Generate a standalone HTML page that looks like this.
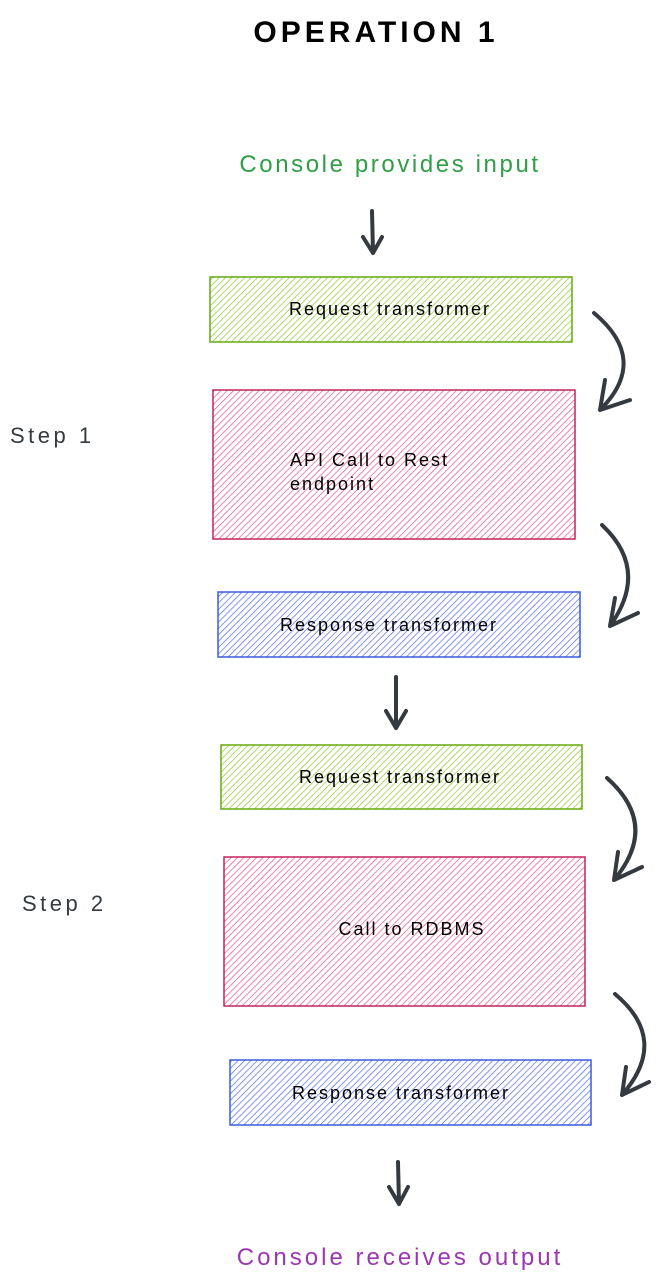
<!DOCTYPE html>
<html><head><meta charset="utf-8"><style>
html,body{margin:0;padding:0;background:#fff}
svg{display:block}
text{font-family:"Liberation Sans",sans-serif}
</style></head><body>
<svg width="663" height="1283" viewBox="0 0 663 1283" xmlns="http://www.w3.org/2000/svg">
<defs>
<pattern id="hg" width="4.5" height="4.5" patternUnits="userSpaceOnUse" patternTransform="rotate(45)"><line x1="0" y1="0" x2="0" y2="5" stroke="#82c91e" stroke-width="1.3"/></pattern>
<pattern id="hr" width="4.5" height="4.5" patternUnits="userSpaceOnUse" patternTransform="rotate(45)"><line x1="0" y1="0" x2="0" y2="5" stroke="#e64980" stroke-width="1.3"/></pattern>
<pattern id="hb" width="4.5" height="4.5" patternUnits="userSpaceOnUse" patternTransform="rotate(45)"><line x1="0" y1="0" x2="0" y2="5" stroke="#4263eb" stroke-width="1.3"/></pattern>
</defs>
<text x="376" y="42" font-size="30" font-weight="bold" text-anchor="middle" fill="#000" letter-spacing="4">OPERATION 1</text>
<text x="390" y="172" font-size="24" text-anchor="middle" fill="#2f9e44" letter-spacing="2.6">Console provides input</text>
<text x="400" y="1265" font-size="24" text-anchor="middle" fill="#9c36b5" letter-spacing="3">Console receives output</text>
<text x="10" y="443" font-size="22" fill="#343a40" letter-spacing="3.5">Step 1</text>
<text x="22" y="911" font-size="22" fill="#343a40" letter-spacing="3.5">Step 2</text>

<rect x="210" y="277" width="362" height="65" fill="url(#hg)" stroke="#66a80f" stroke-width="1.5"/>
<rect x="213" y="390" width="362" height="149" fill="url(#hr)" stroke="#c2255c" stroke-width="1.5"/>
<rect x="218" y="592" width="362" height="65" fill="url(#hb)" stroke="#3b5bdb" stroke-width="1.5"/>
<rect x="221" y="745" width="361" height="64" fill="url(#hg)" stroke="#66a80f" stroke-width="1.5"/>
<rect x="224" y="857" width="361" height="149" fill="url(#hr)" stroke="#c2255c" stroke-width="1.5"/>
<rect x="230" y="1060" width="361" height="65" fill="url(#hb)" stroke="#3b5bdb" stroke-width="1.5"/>

<g font-size="18" fill="#000" text-anchor="middle" letter-spacing="2">
<text x="390" y="315">Request transformer</text>
<text x="389" y="631">Response transformer</text>
<text x="400" y="783">Request transformer</text>
<text x="412" y="935">Call to RDBMS</text>
<text x="401" y="1099">Response transformer</text>
</g>
<text x="290" y="466" font-size="18" fill="#000" letter-spacing="2">API Call to Rest</text>
<text x="290" y="490" font-size="18" fill="#000" letter-spacing="2">endpoint</text>

<g stroke="#343a40" stroke-width="4" fill="none" stroke-linecap="round" stroke-linejoin="round">
<path d="M372 211 L373 253 M363 237 L373 253 L382 237"/>
<path d="M396 677 L396 728 M386 711 L396 728 L406 711"/>
<path d="M398 1162 L399 1204 M389 1187 L399 1204 L408 1187"/>
<path d="M594 313 Q650 360 600 410 M605 380 L600 410 L630 400"/>
<path d="M602 525 Q650 570 610 626 M615 598 L610 626 L638 613"/>
<path d="M607 778 Q660 825 614 880 M618 852 L614 880 L642 867"/>
<path d="M615 994 Q670 1040 622 1095 M626 1067 L622 1095 L649 1082"/>
</g>
</svg>
</body></html>
